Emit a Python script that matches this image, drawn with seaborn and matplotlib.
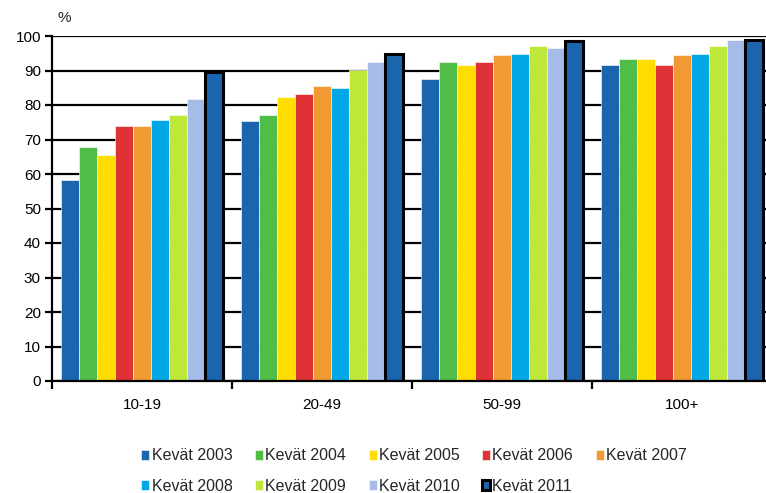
import matplotlib
matplotlib.use("Agg")
import matplotlib.pyplot as plt
import seaborn as sns
import pandas as pd
import numpy as np

# %%
groups = ["10-19", "20-49", "50-99", "100+"]
years = ["Kevät 2003", "Kevät 2004", "Kevät 2005", "Kevät 2006", "Kevät 2007",
         "Kevät 2008", "Kevät 2009", "Kevät 2010", "Kevät 2011"]
colors = ["#1B64AE", "#50BE46", "#FFDD00", "#DE3236", "#F19A33",
          "#00A6E6", "#BDE83A", "#A6BCE8", "#1B64AE"]

v_10_19 = [58.4, 67.8, 65.5, 73.8, 73.8, 75.7, 77.1, 81.7, 89.5]
v_20_49 = [75.4, 77.1, 82.2, 83.2, 85.5, 85.0, 90.1, 92.5, 94.8]
v_50_99 = [87.4, 92.5, 91.6, 92.5, 94.4, 94.9, 97.1, 96.6, 98.5]
v_100 = [91.5, 93.4, 93.4, 91.5, 94.4, 94.9, 97.2, 98.9, 98.8]

# %%
rows = []
for g, vals in zip(groups, [v_10_19, v_20_49, v_50_99, v_100]):
    for y, v in zip(years, vals):
        rows.append({"Group": g, "Year": y, "Value": v})
df = pd.DataFrame(rows)

sns.set_style("white")
plt.rcParams['font.family'] = ['Liberation Sans', 'DejaVu Sans']

fig = plt.figure(figsize=(7.66, 4.93), dpi=100)
ax = fig.add_axes([52 / 766, 1 - 381 / 493, 720 / 766, 345 / 493])

sns.barplot(data=df, x="Group", y="Value", hue="Year", hue_order=years,
            palette=colors, width=0.9, gap=0, dodge=True, legend=False,
            saturation=1, ax=ax)

# style the bars
for i, cont in enumerate(ax.containers):
    for p in cont.patches:
        if i == len(ax.containers) - 1:
            p.set_edgecolor("black")
            p.set_linewidth(2.2)
        else:
            p.set_edgecolor("white")
            p.set_linewidth(0.4)

#------------------------
# Axes details
#------------------------
ax.set_ylim(0, 100)
ax.set_xlim(-0.5, 3.5)
ax.set_yticks(np.arange(0, 101, 10))
ax.yaxis.grid(True, color="black", linewidth=1.6)
ax.set_axisbelow(True)
ax.set_xlabel("")
ax.set_ylabel("")
for s in ["top", "right"]:
    ax.spines[s].set_visible(False)
ax.spines["left"].set_color("black")
ax.spines["left"].set_linewidth(1.6)
ax.spines["bottom"].set_color("black")
ax.spines["bottom"].set_linewidth(1.6)

ax.tick_params(axis="y", which="major", direction="out", length=5, width=1.6,
               colors="black", labelsize=11, left=True, pad=3)
ax.tick_params(axis="x", which="major", length=0, labelsize=11, pad=12,
               colors="black")
ax.set_xticks([-0.5, 0.5, 1.5, 2.5, 3.5], minor=True)
ax.tick_params(axis="x", which="minor", direction="out", length=6, width=1.6,
               colors="black", bottom=True)

fig.text(57 / 766, 1 - 18 / 493, "%", fontsize=11, ha="left", va="center")

# legend in row-major order
handles = [c.patches[0] for c in ax.containers]
order = [0, 5, 1, 6, 2, 7, 3, 8, 4]
fig.legend([handles[i] for i in order], [years[i] for i in order],
           ncol=5, loc="center", bbox_to_anchor=(414 / 766, 1 - 471 / 493),
           frameon=False, fontsize=11.5, handlelength=0.5, handleheight=0.55,
           handletextpad=0.15, columnspacing=1.4, labelspacing=0.95)

fig.savefig("out.png", dpi=100)
